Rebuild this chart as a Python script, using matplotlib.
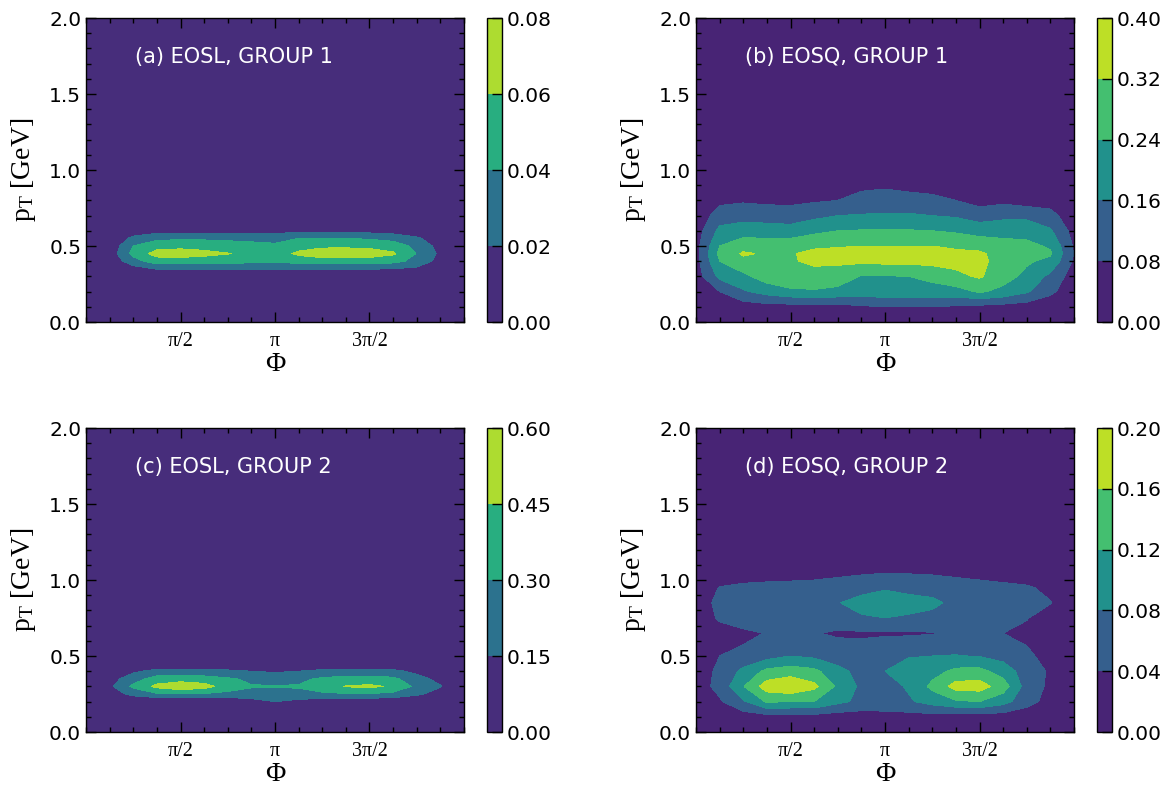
import numpy as np
import matplotlib
matplotlib.use("Agg")
import matplotlib.pyplot as plt
from matplotlib.ticker import MultipleLocator, FixedLocator, FormatStrFormatter

plt.rcParams['font.family'] = ['DejaVu Sans']
plt.rcParams['mathtext.fontset'] = 'custom'
plt.rcParams['mathtext.rm'] = 'Liberation Serif'
plt.rcParams['mathtext.it'] = 'Liberation Serif:italic'

# ---------------- data ----------------
# azimuthal grid nodes (in units of pi)
phi_nodes = [0.0, 0.125, 0.25, 0.375, 0.5, 0.625, 0.75, 0.875, 1.0,
             1.125, 1.25, 1.375, 1.5, 1.625, 1.75, 1.875, 2.0]

# (a) EOSL, GROUP 1 : one list per phi node, values along pt_a
pt_a = [0.0, 0.30, 0.35, 0.40, 0.45, 0.50, 0.55, 0.60, 0.65]
za_cols = [
    [0, 0, 0, 0, 0, 0, 0, 0, 0],
    [0, 0, 0, 0.005, 0.008, 0.005, 0, 0, 0],
    [0, 0, 0.012, 0.032, 0.046, 0.040, 0.026, 0.006, 0],
    [0, 0, 0.021, 0.050, 0.068, 0.052, 0.036, 0.012, 0],
    [0, 0, 0.022, 0.050, 0.070, 0.054, 0.037, 0.013, 0],
    [0, 0, 0.022, 0.049, 0.066, 0.052, 0.037, 0.013, 0],
    [0, 0, 0.022, 0.047, 0.061, 0.049, 0.036, 0.012, 0],
    [0, 0, 0.022, 0.045, 0.055, 0.046, 0.035, 0.012, 0],
    [0, 0, 0.021, 0.043, 0.050, 0.044, 0.033, 0.012, 0],
    [0, 0, 0.021, 0.048, 0.064, 0.052, 0.040, 0.016, 0],
    [0, 0, 0.021, 0.050, 0.071, 0.056, 0.040, 0.016, 0],
    [0, 0, 0.021, 0.050, 0.072, 0.056, 0.040, 0.015, 0],
    [0, 0, 0.021, 0.050, 0.070, 0.055, 0.038, 0.013, 0],
    [0, 0, 0.020, 0.046, 0.063, 0.050, 0.034, 0.010, 0],
    [0, 0, 0.016, 0.034, 0.039, 0.035, 0.024, 0.004, 0],
    [0, 0, 0.004, 0.012, 0.016, 0.012, 0.004, 0, 0],
    [0, 0, 0, 0, 0, 0, 0, 0, 0],
]
levels_a = [0.00, 0.02, 0.04, 0.06, 0.08]

# (b) EOSQ, GROUP 1
pt_b = [0.0, 0.1, 0.2, 0.3, 0.4, 0.45, 0.5, 0.6, 0.7, 0.8, 0.9, 1.0]
zb_cols = [
    [0, 0, 0.02, 0.04, 0.05, 0.05, 0.05, 0.04, 0.02, 0, 0, 0],
    [0, 0.02, 0.08, 0.18, 0.24, 0.26, 0.24, 0.18, 0.12, 0.06, 0.02, 0],
    [0, 0.04, 0.15, 0.22, 0.30, 0.33, 0.29, 0.20, 0.13, 0.07, 0.02, 0],
    [0, 0.05, 0.19, 0.28, 0.30, 0.31, 0.29, 0.19, 0.13, 0.06, 0.02, 0],
    [0, 0.05, 0.22, 0.31, 0.315, 0.315, 0.29, 0.19, 0.12, 0.06, 0.02, 0],
    [0, 0.05, 0.23, 0.30, 0.33, 0.335, 0.31, 0.22, 0.14, 0.07, 0.02, 0],
    [0, 0.05, 0.22, 0.28, 0.335, 0.34, 0.315, 0.24, 0.16, 0.08, 0.03, 0],
    [0, 0.07, 0.20, 0.235, 0.335, 0.345, 0.32, 0.245, 0.165, 0.11, 0.06, 0.02],
    [0, 0.08, 0.21, 0.235, 0.34, 0.345, 0.32, 0.245, 0.17, 0.11, 0.07, 0.02],
    [0, 0.08, 0.21, 0.24, 0.34, 0.345, 0.32, 0.245, 0.17, 0.105, 0.06, 0.02],
    [0, 0.08, 0.21, 0.26, 0.345, 0.35, 0.32, 0.24, 0.16, 0.10, 0.05, 0.01],
    [0, 0.07, 0.21, 0.30, 0.345, 0.345, 0.30, 0.23, 0.15, 0.08, 0.03, 0],
    [0, 0.06, 0.25, 0.33, 0.345, 0.335, 0.29, 0.21, 0.12, 0.05, 0.02, 0],
    [0, 0.05, 0.22, 0.27, 0.28, 0.28, 0.27, 0.21, 0.14, 0.06, 0.02, 0],
    [0, 0.04, 0.17, 0.22, 0.25, 0.265, 0.26, 0.21, 0.14, 0.04, 0.01, 0],
    [0, 0.02, 0.10, 0.14, 0.22, 0.25, 0.23, 0.17, 0.11, 0.04, 0, 0],
    [0, 0, 0.02, 0.04, 0.07, 0.075, 0.07, 0.05, 0.02, 0, 0, 0],
]
levels_b = [0.00, 0.08, 0.16, 0.24, 0.32, 0.40]

# (c) EOSL, GROUP 2
pt_c = [0.0, 0.15, 0.20, 0.25, 0.30, 0.35, 0.40, 0.45]
zc_cols = [
    [0, 0, 0, 0, 0, 0, 0, 0],
    [0, 0, 0, 0.06, 0.12, 0.08, 0.03, 0],
    [0, 0, 0, 0.20, 0.33, 0.24, 0.12, 0],
    [0, 0, 0, 0.28, 0.49, 0.36, 0.20, 0],
    [0, 0, 0, 0.30, 0.56, 0.38, 0.20, 0],
    [0, 0, 0, 0.29, 0.51, 0.36, 0.20, 0],
    [0, 0, 0.02, 0.26, 0.38, 0.32, 0.18, 0],
    [0, 0, 0.08, 0.26, 0.31, 0.27, 0.15, 0],
    [0, 0, 0.15, 0.26, 0.305, 0.25, 0.13, 0],
    [0, 0, 0.10, 0.27, 0.31, 0.27, 0.15, 0],
    [0, 0, 0.06, 0.28, 0.36, 0.32, 0.19, 0],
    [0, 0, 0.04, 0.29, 0.46, 0.35, 0.21, 0],
    [0, 0, 0.04, 0.29, 0.48, 0.35, 0.21, 0],
    [0, 0, 0.03, 0.26, 0.43, 0.33, 0.19, 0],
    [0, 0, 0.01, 0.18, 0.26, 0.21, 0.11, 0],
    [0, 0, 0, 0.08, 0.16, 0.10, 0.04, 0],
    [0, 0, 0, 0, 0, 0, 0, 0],
]
levels_c = [0.00, 0.15, 0.30, 0.45, 0.60]

# (d) EOSQ, GROUP 2
pt_d = [0.0, 0.1, 0.2, 0.3, 0.4, 0.5, 0.65, 0.75, 0.85, 0.95, 1.05]
zd_cols = [
    [0, 0, 0.01, 0.02, 0.02, 0.015, 0.005, 0.015, 0.02, 0.01, 0],
    [0, 0.005, 0.035, 0.052, 0.048, 0.04, 0.025, 0.045, 0.05, 0.042, 0.01],
    [0, 0.02, 0.075, 0.118, 0.09, 0.05, 0.03, 0.065, 0.06, 0.05, 0.015],
    [0, 0.025, 0.125, 0.18, 0.13, 0.065, 0.042, 0.06, 0.065, 0.055, 0.015],
    [0, 0.025, 0.12, 0.195, 0.14, 0.08, 0.05, 0.055, 0.065, 0.055, 0.02],
    [0, 0.025, 0.12, 0.17, 0.13, 0.072, 0.042, 0.055, 0.07, 0.055, 0.025],
    [0, 0.02, 0.09, 0.112, 0.092, 0.06, 0.035, 0.06, 0.078, 0.06, 0.03],
    [0, 0.02, 0.07, 0.072, 0.066, 0.056, 0.035, 0.075, 0.095, 0.065, 0.035],
    [0, 0.025, 0.065, 0.062, 0.08, 0.07, 0.035, 0.08, 0.105, 0.075, 0.038],
    [0, 0.025, 0.075, 0.085, 0.095, 0.078, 0.035, 0.075, 0.095, 0.068, 0.037],
    [0, 0.025, 0.095, 0.13, 0.105, 0.08, 0.038, 0.07, 0.088, 0.065, 0.035],
    [0, 0.02, 0.115, 0.175, 0.13, 0.082, 0.045, 0.065, 0.07, 0.06, 0.03],
    [0, 0.02, 0.12, 0.178, 0.132, 0.078, 0.05, 0.06, 0.065, 0.055, 0.025],
    [0, 0.02, 0.095, 0.14, 0.102, 0.066, 0.04, 0.055, 0.06, 0.05, 0.02],
    [0, 0.015, 0.055, 0.062, 0.06, 0.048, 0.03, 0.042, 0.05, 0.045, 0.015],
    [0, 0.005, 0.025, 0.032, 0.035, 0.025, 0.01, 0.02, 0.042, 0.03, 0.005],
    [0, 0, 0.005, 0.01, 0.01, 0.008, 0, 0.005, 0.01, 0.005, 0],
]
levels_d = [0.00, 0.04, 0.08, 0.12, 0.16, 0.20]

titles = ["(a) EOSL, GROUP 1", "(b) EOSQ, GROUP 1",
          "(c) EOSL, GROUP 2", "(d) EOSQ, GROUP 2"]
xtick_pos_pi = [0.5, 1.0, 1.5]
xtick_labels = ["\u03c0/2", "\u03c0", "3\u03c0/2"]

# ---------------- figure ----------------
W, H = 1173, 789
fig = plt.figure(figsize=(W / 100, H / 100), dpi=100)

def fx(px):
    return px / W

def fy(px):
    return px / H

panels = [
    (pt_a, za_cols, levels_a, titles[0], 86, 322),
    (pt_b, zb_cols, levels_b, titles[1], 696, 322),
    (pt_c, zc_cols, levels_c, titles[2], 86, 732),
    (pt_d, zd_cols, levels_d, titles[3], 696, 732),
]

serif = ['Liberation Serif', 'DejaVu Serif']

for pts, cols, levels, title, left_px, bottom_px in panels:
    ax = fig.add_axes([fx(left_px), fy(H - bottom_px), fx(378), fy(304)])
    z = np.array(cols, dtype=float).T            # rows = pT, columns = phi
    ptg = np.array(list(pts) + [2.0])
    z = np.vstack([z, np.zeros((1, z.shape[1]))])
    phi = np.array(phi_nodes) * np.pi
    cf = ax.contourf(phi, ptg, z, levels=levels, cmap='viridis')
    ax.set_xlim(0, 2 * np.pi)
    ax.set_ylim(0, 2.0)
    ax.xaxis.set_major_locator(FixedLocator([v * np.pi for v in xtick_pos_pi]))
    ax.set_xticklabels(xtick_labels, family=serif, fontsize=15)
    ax.xaxis.set_minor_locator(MultipleLocator(np.pi / 8))
    ax.yaxis.set_major_locator(MultipleLocator(0.5))
    ax.yaxis.set_minor_locator(MultipleLocator(0.1))
    ax.yaxis.set_major_formatter(FormatStrFormatter('%.1f'))
    ax.tick_params(which='both', direction='in', top=True, right=True,
                   colors='black', width=1.0)
    ax.tick_params(which='major', length=7, labelsize=14.5)
    ax.tick_params(axis='x', which='major', pad=7)
    ax.tick_params(which='minor', length=3.5)
    for sp in ax.spines.values():
        sp.set_linewidth(1.0)
    ax.set_xlabel("\u03a6", family=serif, fontsize=20, labelpad=1)
    ax.set_ylabel(r"$\mathrm{p_T}$ [GeV]", family=serif, fontsize=20, labelpad=8)
    ax.text(0.13, 0.873, title, transform=ax.transAxes, color='white',
            fontsize=15, va='center', ha='left')

    cax = fig.add_axes([fx(left_px + 401), fy(H - bottom_px), fx(15), fy(304)])
    cb = fig.colorbar(cf, cax=cax, ticks=levels)
    cb.ax.yaxis.set_major_formatter(FormatStrFormatter('%.2f'))
    cb.ax.tick_params(direction='in', length=7, width=1.0, labelsize=14.5)
    cb.outline.set_linewidth(1.0)

fig.savefig("out.png", dpi=100)
